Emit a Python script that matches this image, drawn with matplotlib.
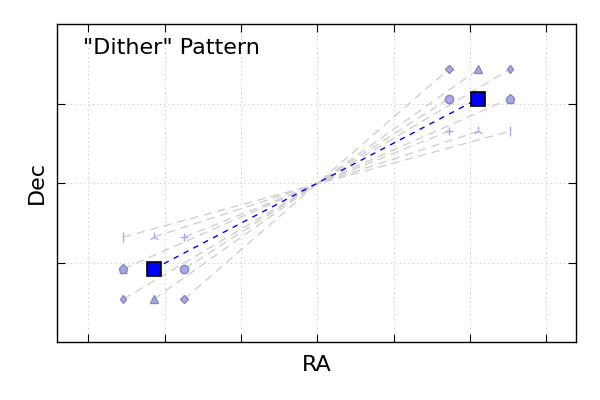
import matplotlib
matplotlib.use("Agg")
import matplotlib.pyplot as plt

# Dither positions (lower-left group) and their counterparts (upper-right group)
markers = ['|', '2', '+', 'p', 's', 'o', 'd', '^', 'D']
ll_x = [-2.54, -2.14, -1.74, -2.54, -2.14, -1.74, -2.54, -2.14, -1.74]
ll_y = [-0.68, -0.68, -0.68, -1.08, -1.08, -1.08, -1.46, -1.46, -1.46]
ur_x = [2.52, 2.11, 1.72, 2.52, 2.11, 1.72, 2.52, 2.11, 1.72]
ur_y = [0.65, 0.65, 0.65, 1.06, 1.06, 1.06, 1.43, 1.43, 1.43]
main_marker = 's'

x_ticks = [-3, -2, -1, 0, 1, 2, 3]
y_ticks = [-1, 0, 1]

unfilled = {'|', '2', '+'}
msizes = {'|': 7, '2': 7, '+': 6, 'p': 6.5, 'o': 6, 'd': 4.5, '^': 6, 'D': 4}

fig = plt.figure(figsize=(6, 4), dpi=100, facecolor='white')
ax = fig.add_axes([0.095, 0.145, 0.865, 0.795])

for m, x0, y0, x1, y1 in zip(markers, ll_x, ll_y, ur_x, ur_y):
    if m == main_marker:
        ax.plot([x0, x1], [y0, y1], ls='--', color='blue', lw=1, dashes=(4, 4), zorder=3)
        ax.plot([x0, x1], [y0, y1], ls='none', marker='s', ms=10,
                mfc='blue', mec='black', mew=1.2, zorder=5)
    else:
        ax.plot([x0, x1], [y0, y1], ls='--', color='#d0d0d0', lw=1, dashes=(6, 4), zorder=2)
        ax.plot([x0, x1], [y0, y1], ls='none', marker=m, ms=msizes[m],
                mfc='#a8a8e8', mec=('#a8a8f0' if m in unfilled else '#8888b8'),
                mew=1.0, zorder=4)

ax.set_xlim(-3.41, 3.39)
ax.set_ylim(-2, 2)
ax.set_xticks(x_ticks)
ax.set_yticks(y_ticks)
ax.set_xticklabels([])
ax.set_yticklabels([])
ax.tick_params(direction='in', length=6, top=True, right=True, width=0.8)
ax.grid(True, color='#c8c8c8', lw=0.8, dashes=(1, 3))
ax.set_axisbelow(True)
for s in ax.spines.values():
    s.set_linewidth(1.0)

ax.text(0.05, 0.955, '"Dither" Pattern', transform=ax.transAxes,
        fontsize=16, va='top', ha='left')
ax.set_xlabel('RA', fontsize=16, labelpad=6)
ax.set_ylabel('Dec', fontsize=16, labelpad=4)

fig.savefig('out.png', dpi=100, facecolor='white')
